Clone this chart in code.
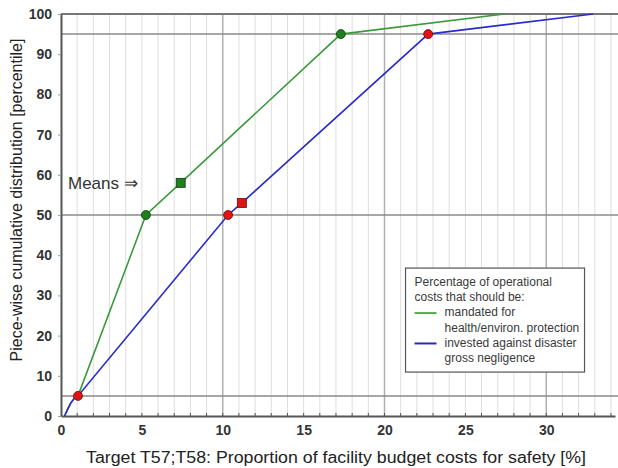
<!DOCTYPE html>
<html>
<head>
<meta charset="utf-8">
<script src="https://cdn.jsdelivr.net/npm/d3@7"></script>
<style>
  body { margin: 0; background: #fff; }
  svg { font-family: "Liberation Sans", Arial, sans-serif; }
</style>
</head>
<body>
<div id="chart"></div>
<script>
// Data
const mandated = [
  [0.22, 0], [0.4, 1.6], [0.6, 3.2], [0.8, 4.3], [1.05, 5],
  [5.25, 50], [7.4, 58], [17.3, 95], [27.4, 100],
];
const invested = [
  [0.22, 0], [0.4, 1.6], [0.6, 3.2], [0.8, 4.3], [1.05, 5],
  [10.33, 50], [11.18, 53], [22.7, 95], [32.9, 100],
];
const greenDots = [[5.25, 50], [17.3, 95]];
const redDots = [[1.05, 5], [10.33, 50], [22.7, 95]];
const greenMean = [[7.4, 58]];
const redMean = [[11.18, 53]];
const xTicks = [0, 5, 10, 15, 20, 25, 30];
const yTicks = [0, 10, 20, 30, 40, 50, 60, 70, 80, 90, 100];
const refLines = [5, 50, 95];
const legendLines = [
  "Percentage of operational",
  "costs that should be:",
  "mandated for",
  "health/environ. protection",
  "invested against disaster",
  "gross negligence",
];

const dimensions = {
  width: 618,
  height: 468,
  margin: { top: 14, right: 3, bottom: 52, left: 61 },
};
dimensions.containerWidth =
  dimensions.width - dimensions.margin.left - dimensions.margin.right;
dimensions.containerHeight =
  dimensions.height - dimensions.margin.top - dimensions.margin.bottom;

const svg = d3
  .select("#chart")
  .append("svg")
  .attr("width", dimensions.width)
  .attr("height", dimensions.height);

const container = svg
  .append("g")
  .attr(
    "transform",
    `translate(${dimensions.margin.left}, ${dimensions.margin.top})`
  );

// Scales
const xScale = d3
  .scaleLinear()
  .domain([0, 34.25])
  .range([0, dimensions.containerWidth]);
const yScale = d3
  .scaleLinear()
  .domain([0, 100])
  .range([dimensions.containerHeight, 0]);

// Vertical grid
container
  .append("g")
  .selectAll("line")
  .data(d3.range(1, 35))
  .join("line")
  .attr("x1", (d) => xScale(d))
  .attr("x2", (d) => xScale(d))
  .attr("y1", 0)
  .attr("y2", dimensions.containerHeight)
  .attr("stroke", (d) => (d % 10 === 0 ? "#b0b0b0" : "#dedede"))
  .attr("stroke-width", (d) => (d % 10 === 0 ? 1.5 : 1));

// Reference lines
container
  .append("g")
  .selectAll("line")
  .data(refLines)
  .join("line")
  .attr("x1", 0)
  .attr("x2", dimensions.containerWidth + 3)
  .attr("y1", (d) => yScale(d))
  .attr("y2", (d) => yScale(d))
  .attr("stroke", "#8a8a8a")
  .attr("stroke-width", 1.5);

// Top border
container
  .append("line")
  .attr("x1", 0)
  .attr("x2", dimensions.containerWidth + 3)
  .attr("y1", yScale(100))
  .attr("y2", yScale(100))
  .attr("stroke", "#777")
  .attr("stroke-width", 2);

// Axes
const xAxis = d3
  .axisBottom(xScale)
  .tickValues(xTicks)
  .tickSize(0)
  .tickPadding(9)
  .tickSizeOuter(0);
const xAxisG = container
  .append("g")
  .attr("transform", `translate(0, ${dimensions.containerHeight})`)
  .call(xAxis);
xAxisG.select(".domain").attr("stroke", "#555").attr("stroke-width", 2);
xAxisG
  .selectAll(".minor")
  .data(d3.range(1, 35))
  .join("line")
  .attr("class", "minor")
  .attr("x1", (d) => xScale(d))
  .attr("x2", (d) => xScale(d))
  .attr("y1", 0)
  .attr("y2", -3)
  .attr("stroke", "#555");
xAxisG
  .selectAll(".tick text")
  .attr("font-size", 14)
  .attr("font-weight", "bold")
  .attr("fill", "#333");

const yAxis = d3
  .axisLeft(yScale)
  .tickValues(yTicks)
  .tickSize(3)
  .tickPadding(6)
  .tickSizeOuter(0);
const yAxisG = container.append("g").call(yAxis);
yAxisG.select(".domain").attr("stroke", "#555").attr("stroke-width", 2);
yAxisG.selectAll(".tick line").attr("stroke", "#999");
yAxisG
  .selectAll(".tick text")
  .attr("font-size", 14)
  .attr("font-weight", "bold")
  .attr("fill", "#333");

// Axis titles
xAxisG
  .append("text")
  .attr("x", 275)
  .attr("y", 47)
  .attr("fill", "#222")
  .attr("font-size", 16)
  .attr("text-anchor", "middle")
  .attr("textLength", 500)
  .attr("lengthAdjust", "spacingAndGlyphs")
  .text("Target T57;T58: Proportion of facility budget costs for safety [%]");

yAxisG
  .append("text")
  .attr("x", -186)
  .attr("y", -39)
  .attr("fill", "#222")
  .attr("font-size", 16)
  .attr("text-anchor", "middle")
  .attr("transform", "rotate(-90)")
  .text("Piece-wise cumulative distribution [percentile]");

// Lines
const line = d3
  .line()
  .x((d) => xScale(d[0]))
  .y((d) => yScale(d[1]));

container
  .append("path")
  .datum(mandated)
  .attr("d", line)
  .attr("fill", "none")
  .attr("stroke", "#3c9a3c")
  .attr("stroke-width", 1.6);

container
  .append("path")
  .datum(invested)
  .attr("d", line)
  .attr("fill", "none")
  .attr("stroke", "#2b2bc8")
  .attr("stroke-width", 1.6);

// Markers
container
  .append("g")
  .selectAll("circle")
  .data(greenDots)
  .join("circle")
  .attr("cx", (d) => xScale(d[0]))
  .attr("cy", (d) => yScale(d[1]))
  .attr("r", 4.5)
  .attr("fill", "#1d7f1d")
  .attr("stroke", "#0d3d0d")
  .attr("stroke-width", 0.8);

container
  .append("g")
  .selectAll("circle")
  .data(redDots)
  .join("circle")
  .attr("cx", (d) => xScale(d[0]))
  .attr("cy", (d) => yScale(d[1]))
  .attr("r", 4.5)
  .attr("fill", "#e01414")
  .attr("stroke", "#6a0a0a")
  .attr("stroke-width", 0.8);

container
  .append("g")
  .selectAll("rect")
  .data(greenMean)
  .join("rect")
  .attr("x", (d) => xScale(d[0]) - 4.5)
  .attr("y", (d) => yScale(d[1]) - 4.5)
  .attr("width", 9)
  .attr("height", 9)
  .attr("fill", "#1d7f1d")
  .attr("stroke", "#0d3d0d")
  .attr("stroke-width", 0.8);

container
  .append("g")
  .selectAll("rect")
  .data(redMean)
  .join("rect")
  .attr("x", (d) => xScale(d[0]) - 4.5)
  .attr("y", (d) => yScale(d[1]) - 4.5)
  .attr("width", 9)
  .attr("height", 9)
  .attr("fill", "#e01414")
  .attr("stroke", "#6a0a0a")
  .attr("stroke-width", 0.8);

// Means label
container
  .append("text")
  .attr("x", 7)
  .attr("y", yScale(58) + 6)
  .attr("font-size", 17)
  .attr("fill", "#333")
  .text("Means \u21D2");

// Legend
const legend = container
  .append("g")
  .attr("transform", `translate(${xScale(21.3)}, ${yScale(36.8)})`);
legend
  .append("rect")
  .attr("width", 179)
  .attr("height", 104)
  .attr("fill", "#fff")
  .attr("stroke", "#555")
  .attr("stroke-width", 1.2);
legend
  .selectAll("text")
  .data(legendLines)
  .join("text")
  .attr("x", (d, i) => (i < 2 ? 9 : 39))
  .attr("y", (d, i) => 18 + i * 15.2)
  .attr("font-size", 12)
  .attr("fill", "#3a3a3a")
  .text((d) => d);
legend
  .selectAll("line")
  .data(["#4caf4c", "#2b2bb0"])
  .join("line")
  .attr("x1", 9)
  .attr("x2", 31)
  .attr("y1", (d, i) => 45 + i * 30.4)
  .attr("y2", (d, i) => 45 + i * 30.4)
  .attr("stroke", (d) => d)
  .attr("stroke-width", 2);
</script>
</body>
</html>
